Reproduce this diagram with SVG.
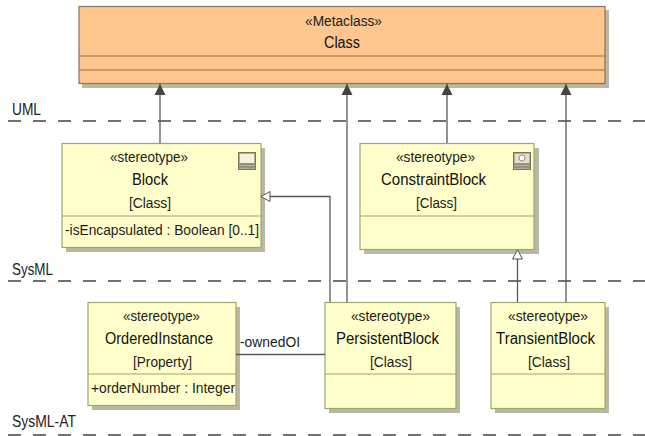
<svg xmlns="http://www.w3.org/2000/svg" width="645" height="436" viewBox="0 0 645 436">
<defs>
<style>
text{font-family:"Liberation Sans",Arial,sans-serif;font-size:15.500px;fill:#1c1c1c;text-anchor:start}
.nm{font-size:16px;fill:#111}
.lb{font-size:16px;fill:#222}
.y{fill:#ffffcb;stroke:#a3a36a;stroke-width:1.2}
.o{fill:#fdc78f;stroke:#94714e;stroke-width:1.2}
.s{fill:#b8b8a8}
.dv{stroke:#444;stroke-width:1.5;stroke-dasharray:13 12;fill:none}
.c{stroke:#5a5a5a;stroke-width:1.300;fill:none}
.ic{fill:#b0b09a;stroke:#77775f;stroke-width:1}
</style>
<marker id="solid" markerUnits="userSpaceOnUse" markerWidth="12" markerHeight="12" refX="11" refY="6" orient="auto"><path d="M0 0.5L11 6L0 11.5Z" fill="#444"/></marker>
<marker id="hollow" markerUnits="userSpaceOnUse" markerWidth="12" markerHeight="12" refX="10" refY="6" orient="auto"><path d="M1 1L10 6L1 11Z" fill="#fff" stroke="#555" stroke-width="1"/></marker>
</defs>
<rect width="645" height="436" fill="#fff"/>
<g id="swimlanes">
<path class="dv" d="M8 121H645M8 281H645M8 435H645"/>
<text class="lb" x="12" y="115" textLength="29" lengthAdjust="spacingAndGlyphs">UML</text>
<text class="lb" x="12" y="275" textLength="41" lengthAdjust="spacingAndGlyphs">SysML</text>
<text class="lb" x="12" y="427" textLength="64" lengthAdjust="spacingAndGlyphs">SysML-AT</text>
</g>
<g id="node-metaclass">
<rect class="s" x="82" y="10" width="527" height="78"/>
<rect class="o" x="79" y="6.500" width="526" height="77"/>
<path class="o" d="M79 56H605M79 70H605"/>
<text x="305" y="26" textLength="77" lengthAdjust="spacingAndGlyphs">«Metaclass»</text>
<text class="nm" x="324" y="48" textLength="36" lengthAdjust="spacingAndGlyphs">Class</text>
</g>
<g id="node-block">
<rect class="s" x="66" y="148" width="199" height="104"/>
<rect class="y" x="62" y="143.500" width="199" height="104"/>
<path class="y" d="M62 216H261"/>
<text x="110" y="162" textLength="78" lengthAdjust="spacingAndGlyphs">«stereotype»</text>
<text class="nm" x="132" y="185" textLength="36" lengthAdjust="spacingAndGlyphs">Block</text>
<text x="129" y="208" textLength="42" lengthAdjust="spacingAndGlyphs">[Class]</text>
<text x="65" y="235" textLength="194" lengthAdjust="spacingAndGlyphs">-isEncapsulated : Boolean [0..1]</text>
<rect class="ic" x="238.500" y="152.500" width="17" height="17"/>
<rect x="240" y="154" width="14" height="9" fill="#f5f3d8"/>
<path d="M239 164H255M239 167H255" stroke="#77775f" fill="none"/>
</g>
<g id="node-constraint">
<rect class="s" x="364" y="148" width="175" height="106"/>
<rect class="y" x="360" y="143.500" width="174" height="106"/>
<path class="y" d="M360 216H534"/>
<text x="396" y="162" textLength="79" lengthAdjust="spacingAndGlyphs">«stereotype»</text>
<text class="nm" x="381" y="185" textLength="105" lengthAdjust="spacingAndGlyphs">ConstraintBlock</text>
<text x="416" y="208" textLength="41" lengthAdjust="spacingAndGlyphs">[Class]</text>
<rect class="ic" x="513.500" y="152.500" width="17" height="17"/>
<rect x="515" y="154" width="14" height="9" fill="#e4e2cc"/>
<circle cx="522" cy="158" r="3" fill="#fff" stroke="#77775f" stroke-width=".8"/>
<path d="M514 164H530M514 167H530" stroke="#77775f" fill="none"/>
</g>
<g id="node-ordered">
<rect class="s" x="92" y="307" width="148" height="103"/>
<rect class="y" x="88" y="302.500" width="148" height="103"/>
<path class="y" d="M88 374H236"/>
<text x="123" y="321" textLength="77" lengthAdjust="spacingAndGlyphs">«stereotype»</text>
<text class="nm" x="105" y="344" textLength="108" lengthAdjust="spacingAndGlyphs">OrderedInstance</text>
<text x="133" y="367" textLength="59" lengthAdjust="spacingAndGlyphs">[Property]</text>
<text x="91" y="393" textLength="144" lengthAdjust="spacingAndGlyphs">+orderNumber : Integer</text>
</g>
<g id="node-persistent">
<rect class="s" x="329" y="307" width="131" height="106"/>
<rect class="y" x="325" y="302.500" width="131" height="106"/>
<path class="y" d="M325 374H456"/>
<text x="351" y="321" textLength="79" lengthAdjust="spacingAndGlyphs">«stereotype»</text>
<text class="nm" x="336" y="344" textLength="103" lengthAdjust="spacingAndGlyphs">PersistentBlock</text>
<text x="370" y="367" textLength="42" lengthAdjust="spacingAndGlyphs">[Class]</text>
</g>
<g id="node-transient">
<rect class="s" x="495" y="307" width="114" height="106"/>
<rect class="y" x="491" y="302.500" width="114" height="106"/>
<path class="y" d="M491 374H605"/>
<text x="508" y="321" textLength="80" lengthAdjust="spacingAndGlyphs">«stereotype»</text>
<text class="nm" x="496" y="344" textLength="99" lengthAdjust="spacingAndGlyphs">TransientBlock</text>
<text x="528" y="367" textLength="42" lengthAdjust="spacingAndGlyphs">[Class]</text>
</g>
<g id="connectors">
<path class="c" d="M160 143V84" marker-end="url(#solid)"/>
<path class="c" d="M347 302V84" marker-end="url(#solid)"/>
<path class="c" d="M447 143V84" marker-end="url(#solid)"/>
<path class="c" d="M566 302V84" marker-end="url(#solid)"/>
<path class="c" d="M330 302V196.500H261" marker-end="url(#hollow)"/>
<path class="c" d="M517.500 302V250" marker-end="url(#hollow)"/>
<path class="c" d="M236 354.500H325"/>
<text x="240" y="347" textLength="60" lengthAdjust="spacingAndGlyphs">-ownedOI</text>
</g>
</svg>
